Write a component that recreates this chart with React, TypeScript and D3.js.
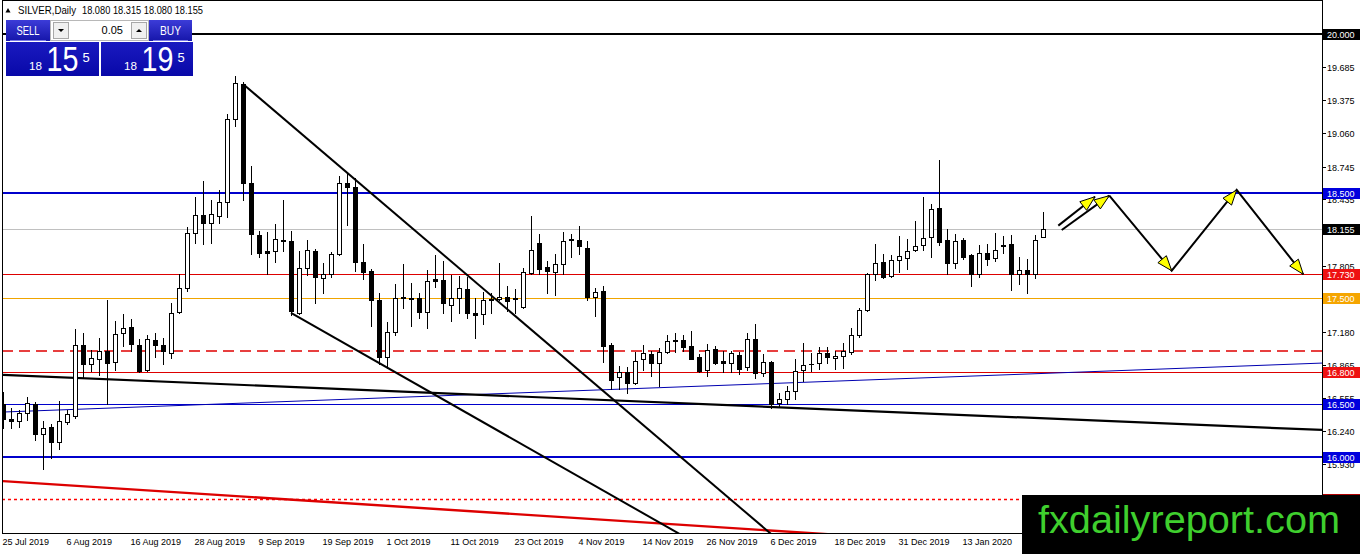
import React from 'react';
import * as d3 from 'd3';

// ---------- data ----------
const dateLabels = ['25 Jul 2019', '6 Aug 2019', '16 Aug 2019', '28 Aug 2019', '9 Sep 2019', '19 Sep 2019', '1 Oct 2019', '11 Oct 2019', '23 Oct 2019', '4 Nov 2019', '14 Nov 2019', '26 Nov 2019', '6 Dec 2019', '18 Dec 2019', '31 Dec 2019', '13 Jan 2020'];
const dateLabelBars = [0, 8, 16, 24, 32, 40, 48, 56, 64, 72, 80, 88, 96, 104, 112, 120];

const opens = [16.50, 16.36, 16.34, 16.41, 16.50, 16.21, 16.28, 16.14, 16.33, 16.38, 17.06, 16.88, 16.92, 17.00, 16.90, 17.17, 17.23, 17.06, 16.82, 17.10, 17.06, 16.98, 17.37, 17.60, 18.12, 18.29, 18.21, 18.28, 18.41, 19.20, 19.53, 18.59, 18.10, 17.95, 17.95, 18.05, 18.04, 17.36, 17.79, 17.95, 17.69, 17.73, 17.92, 18.59, 18.55, 17.84, 17.76, 17.48, 16.94, 17.18, 17.50, 17.50, 17.50, 17.37, 17.68, 17.67, 17.44, 17.50, 17.59, 17.36, 17.35, 17.49, 17.49, 17.51, 17.49, 17.42, 17.74, 18.02, 17.80, 17.75, 17.82, 18.06, 18.05, 17.98, 17.51, 17.57, 17.06, 16.75, 16.80, 16.70, 16.92, 16.97, 16.89, 16.99, 17.10, 17.10, 17.05, 16.94, 16.82, 17.02, 16.91, 16.89, 16.96, 16.85, 17.11, 16.79, 16.90, 16.51, 16.55, 16.62, 16.82, 16.88, 16.89, 16.98, 16.93, 16.95, 16.99, 17.15, 17.39, 17.73, 17.84, 17.71, 17.86, 17.88, 17.96, 18.00, 18.08, 18.35, 18.05, 17.83, 18.05, 17.91, 17.73, 17.93, 17.88, 18.00, 18.01, 17.73, 17.77, 17.73, 18.08];
const highs = [16.61, 16.46, 16.44, 16.56, 16.52, 16.34, 16.31, 16.53, 16.44, 17.21, 17.17, 17.01, 17.12, 17.48, 17.28, 17.35, 17.30, 17.11, 17.15, 17.17, 17.12, 17.45, 17.73, 18.17, 18.46, 18.61, 18.43, 18.52, 19.24, 19.60, 19.55, 18.75, 18.14, 18.13, 18.20, 18.43, 18.14, 17.95, 18.05, 17.97, 17.83, 17.94, 18.66, 18.68, 18.64, 18.01, 17.78, 17.55, 17.27, 17.63, 17.82, 17.64, 17.55, 17.77, 17.91, 17.85, 17.72, 17.71, 17.70, 17.50, 17.56, 17.55, 17.83, 17.62, 17.59, 17.79, 18.28, 18.11, 17.85, 17.92, 18.13, 18.11, 18.18, 18.04, 17.60, 17.62, 17.08, 16.86, 16.85, 16.99, 17.06, 17.00, 17.03, 17.15, 17.17, 17.15, 17.19, 16.97, 17.07, 17.05, 17.00, 17.00, 16.99, 17.17, 17.26, 16.97, 16.91, 16.60, 16.67, 16.92, 17.08, 16.98, 17.04, 17.04, 17.00, 17.08, 17.22, 17.41, 17.74, 18.01, 17.92, 17.91, 18.09, 18.06, 18.23, 18.46, 18.39, 18.81, 18.16, 18.11, 18.07, 17.92, 18.00, 18.01, 18.12, 18.09, 18.10, 17.89, 17.87, 18.10, 18.315];
const lows = [16.27, 16.27, 16.28, 16.35, 16.16, 15.88, 15.99, 16.07, 16.31, 16.37, 16.75, 16.81, 16.77, 16.50, 16.82, 17.05, 17.00, 16.80, 16.81, 16.94, 16.88, 16.93, 17.36, 17.57, 18.02, 18.01, 18.02, 18.21, 18.27, 19.13, 18.43, 17.92, 17.89, 17.73, 17.84, 17.95, 17.34, 17.35, 17.72, 17.45, 17.55, 17.70, 17.91, 18.19, 17.76, 17.68, 17.24, 16.88, 16.84, 17.15, 17.41, 17.24, 17.31, 17.22, 17.61, 17.36, 17.28, 17.36, 17.31, 17.12, 17.26, 17.36, 17.48, 17.38, 17.36, 17.41, 17.73, 17.73, 17.55, 17.53, 17.73, 17.89, 17.92, 17.48, 17.33, 16.90, 16.64, 16.64, 16.60, 16.69, 16.82, 16.76, 16.67, 16.98, 16.99, 17.00, 16.92, 16.80, 16.76, 16.88, 16.80, 16.80, 16.78, 16.82, 16.74, 16.76, 16.46, 16.47, 16.50, 16.55, 16.72, 16.81, 16.83, 16.89, 16.83, 16.84, 16.97, 17.13, 17.38, 17.67, 17.69, 17.70, 17.75, 17.78, 17.95, 17.96, 17.89, 18.00, 17.73, 17.79, 17.87, 17.62, 17.70, 17.81, 17.85, 17.93, 17.58, 17.63, 17.55, 17.69, 18.08];
const closes = [16.36, 16.34, 16.41, 16.51, 16.21, 16.27, 16.14, 16.34, 16.40, 17.06, 16.88, 16.93, 17.00, 16.89, 17.16, 17.22, 17.07, 16.81, 17.11, 17.06, 17.00, 17.36, 17.60, 18.12, 18.29, 18.21, 18.30, 18.41, 19.20, 19.54, 18.59, 18.11, 17.93, 17.93, 18.06, 18.04, 17.38, 17.79, 17.96, 17.70, 17.73, 17.92, 18.59, 18.55, 17.84, 17.75, 17.48, 16.94, 17.18, 17.50, 17.51, 17.49, 17.37, 17.66, 17.66, 17.45, 17.50, 17.60, 17.36, 17.34, 17.48, 17.48, 17.51, 17.47, 17.50, 17.75, 17.96, 17.78, 17.76, 17.82, 18.04, 18.05, 17.99, 17.51, 17.56, 17.05, 16.73, 16.80, 16.70, 16.91, 16.98, 16.89, 16.99, 17.09, 17.09, 17.04, 16.92, 16.81, 17.01, 16.89, 16.89, 16.98, 16.83, 17.11, 16.79, 16.90, 16.50, 16.55, 16.62, 16.81, 16.87, 16.88, 16.98, 16.94, 16.95, 17.00, 17.15, 17.39, 17.73, 17.83, 17.70, 17.86, 17.90, 17.95, 17.99, 18.07, 18.34, 18.03, 17.83, 18.04, 17.89, 17.73, 17.93, 17.87, 17.96, 17.99, 17.73, 17.77, 17.73, 18.05, 18.155];

const priceTicks = [19.685, 19.375, 19.06, 18.745, 18.435, 17.805, 17.18, 16.865, 16.555, 16.24, 15.93];
const levelPrices = [20.0, 18.5, 17.73, 17.5, 16.8, 16.5, 16.0, 15.6];
const dashedLevel = 17.0;
const currentPrice = 18.155;

// trend lines as [barIndex, price] pairs
const longBlackLine = [[0, 16.773], [165, 16.252]];
const blueRisingLine = [[0, 16.422], [165, 16.886]];
const redFallingLine = [[0, 15.768], [130, 15.134]];
const wedgeUpperLine = [[30, 19.528], [96, 15.268]];
const wedgeLowerLine = [[36, 17.36], [85, 15.249]];

// projection arrows
const arrowA = [[131.91, 18.187], [136.5, 18.461]];
const arrowB = [[132.34, 18.146], [138.29, 18.471]];
const zigzag = [[138.29, 18.471], [146.09, 17.76], [154.21, 18.525], [162.54, 17.726]];

const symbolTitle = 'SILVER,Daily';
const ohlcTitle = '18.080 18.315 18.080 18.155';
const sellQuote = ['18', '15', '5'];
const buyQuote = ['18', '19', '5'];

// ---------- styles ----------
const W = 1362, H = 554;
const PL = 2, PR = 1322, PT = 1, PB = 533;
const FONT = '"Liberation Sans", Arial, sans-serif';
const levelStyle = [
  { color: '#000000', width: 2, bg: '#000000' },
  { color: '#0000cc', width: 2, bg: '#0000dd' },
  { color: '#dd0000', width: 1, bg: '#ee1111' },
  { color: '#f0a500', width: 1, bg: '#f5a500' },
  { color: '#dd0000', width: 1, bg: '#ee1111' },
  { color: '#0000cc', width: 1, bg: '#0000dd' },
  { color: '#0000cc', width: 2, bg: '#0000dd' },
  { color: '#ff0000', width: 1.4, bg: '#b00000', dotted: true },
];

export default function App() {
  const xs = d3.scaleLinear().domain([0, 130]).range([3, 1043]);
  const ys = d3.scaleLinear().domain([16, 20]).range([456.6, 34.2]);
  const crisp = (v: number) => Math.round(v) + 0.5;
  const lineGen = d3.line<number[]>().x((d) => xs(d[0])).y((d) => ys(d[1]));

  const arrowHead = (p0: number[], p1: number[], key: string) => {
    const x0 = xs(p0[0]), y0 = ys(p0[1]), x1 = xs(p1[0]), y1 = ys(p1[1]);
    const dx = x1 - x0, dy = y1 - y0;
    const len = Math.hypot(dx, dy);
    const ux = dx / len, uy = dy / len;
    const L = 15, hw = 5.5;
    const bx = x1 - ux * L, by = y1 - uy * L;
    const pts = [[x1, y1], [bx - uy * hw, by + ux * hw], [bx + uy * hw, by - ux * hw]];
    return <polygon key={key} points={pts.map((p) => p.join(',')).join(' ')} fill="#ffff00" stroke="#000" strokeWidth={1} strokeLinejoin="miter" />;
  };

  const levelLabel = (v: number) => v.toFixed(3);

  const quoteBox = (x: number, w: number, q: string[], key: string) => (
    <g key={key}>
      <rect x={x} y={42} width={w} height={34} fill="url(#box)" />
      <text x={x + 23} y={70} fontSize={11.5} fill="#fff" textLength={13} lengthAdjust="spacingAndGlyphs">{q[0]}</text>
      <text transform={`translate(${x + 40.5},70.5) scale(0.82,1)`} fontSize={35} fill="#fff">{q[1]}</text>
      <text x={x + 76.5} y={61.5} fontSize={13} fill="#fff">{q[2]}</text>
    </g>
  );

  return (
    <svg width={W} height={H} style={{ position: 'absolute', left: 0, top: 0, background: '#fff' }} fontFamily={FONT}>
      <defs>
        <clipPath id="plot"><rect x={PL} y={PT} width={PR - PL} height={PB - PT} /></clipPath>
        <linearGradient id="hdr" x1="0" y1="0" x2="0" y2="1">
          <stop offset="0" stopColor="#3c3cd8" />
          <stop offset="1" stopColor="#1616aa" />
        </linearGradient>
        <linearGradient id="box" x1="0" y1="0" x2="0" y2="1">
          <stop offset="0" stopColor="#1a1ac0" />
          <stop offset="1" stopColor="#0808a8" />
        </linearGradient>
      </defs>
      <rect x={0} y={0} width={W} height={H} fill="#fff" />

      <g clipPath="url(#plot)">
        {/* horizontal levels */}
        {levelPrices.map((v, i) => (
          <line key={'lv' + i} x1={PL} x2={PR} y1={crisp(ys(v)) - (levelStyle[i].width === 2 ? 0.5 : 0)} y2={crisp(ys(v)) - (levelStyle[i].width === 2 ? 0.5 : 0)}
            stroke={levelStyle[i].color} strokeWidth={levelStyle[i].width}
            strokeDasharray={levelStyle[i].dotted ? '3,3' : undefined} />
        ))}
        <line x1={PL} x2={PR} y1={ys(dashedLevel)} y2={ys(dashedLevel)} stroke="#e00000" strokeWidth={1.3} strokeDasharray="11,6" />
        <line x1={PL} x2={PR} y1={crisp(ys(currentPrice))} y2={crisp(ys(currentPrice))} stroke="#c0c0c0" strokeWidth={1} shapeRendering="crispEdges" />

        {/* trend lines */}
        <path d={lineGen(blueRisingLine as any) || ''} stroke="#0000b0" strokeWidth={1} fill="none" />
        <path d={lineGen(longBlackLine as any) || ''} stroke="#000" strokeWidth={2.2} fill="none" />
        <path d={lineGen(redFallingLine as any) || ''} stroke="#dd0000" strokeWidth={2.4} fill="none" />
        <path d={lineGen(wedgeUpperLine as any) || ''} stroke="#000" strokeWidth={2} fill="none" />
        <path d={lineGen(wedgeLowerLine as any) || ''} stroke="#000" strokeWidth={2} fill="none" />

        {/* candles */}
        {opens.map((o, i) => {
          const c = closes[i];
          const x = Math.round(xs(i));
          const yo = ys(o), yc = ys(c);
          const top = Math.round(Math.min(yo, yc));
          const bot = Math.round(Math.max(yo, yc));
          const bull = c >= o;
          return (
            <g key={'c' + i} shapeRendering="crispEdges">
              <line x1={x + 0.5} x2={x + 0.5} y1={Math.round(ys(highs[i]))} y2={Math.round(ys(lows[i])) + 1} stroke="#000" strokeWidth={1} />
              {bot - top < 1 ? (
                <line x1={x - 2} x2={x + 3} y1={top + 0.5} y2={top + 0.5} stroke="#000" strokeWidth={1} />
              ) : (
                <rect x={x - 1.5} y={top + 0.5} width={4} height={bot - top} fill={bull ? '#fff' : '#000'} stroke="#000" strokeWidth={1} />
              )}
            </g>
          );
        })}

        {/* projection arrows */}
        <path d={lineGen(arrowA as any) || ''} stroke="#000" strokeWidth={2} fill="none" />
        <path d={lineGen(arrowB as any) || ''} stroke="#000" strokeWidth={2} fill="none" />
        <path d={lineGen(zigzag as any) || ''} stroke="#000" strokeWidth={2} fill="none" strokeLinejoin="miter" />
        {arrowHead(arrowA[0], arrowA[1], 'ha')}
        {arrowHead(arrowB[0], arrowB[1], 'hb')}
        {zigzag.slice(1).map((p, i) => arrowHead(zigzag[i], p, 'hz' + i))}
      </g>

      {/* frame */}
      <g shapeRendering="crispEdges" stroke="#000" strokeWidth={1}>
        <line x1={PL + 0.5} x2={PL + 0.5} y1={0} y2={PB + 1} />
        <line x1={PL} x2={PR} y1={0.5} y2={0.5} />
        <line x1={PR + 0.5} x2={PR + 0.5} y1={0} y2={PB + 1} />
        <line x1={PL} x2={PR + 1} y1={PB + 0.5} y2={PB + 0.5} />
      </g>

      {/* price axis ticks */}
      {priceTicks.map((v) => (
        <g key={'t' + v}>
          <line x1={PR} x2={PR + 4} y1={crisp(ys(v))} y2={crisp(ys(v))} stroke="#000" shapeRendering="crispEdges" />
          <text x={PR + 5} y={ys(v) + 4} fontSize={9} fill="#000">{v.toFixed(3)}</text>
        </g>
      ))}
      {/* level labels (drawn over the ticks they hide, as in the terminal) */}
      {levelPrices.map((v, i) => (
        <g key={'ll' + i}>
          <rect x={PR + 1} y={Math.round(ys(v)) - 5} width={37} height={11} fill={levelStyle[i].bg} shapeRendering="crispEdges" />
          <text x={PR + 5} y={ys(v) + 4} fontSize={9} fill="#fff">{levelLabel(v)}</text>
        </g>
      ))}
      <rect x={PR + 1} y={Math.round(ys(currentPrice)) - 5} width={37} height={11} fill="#000" shapeRendering="crispEdges" />
      <text x={PR + 5} y={ys(currentPrice) + 4} fontSize={9} fill="#fff">{currentPrice.toFixed(3)}</text>

      {/* date labels */}
      {dateLabels.map((d, i) => (
        <text key={'d' + i} x={xs(dateLabelBars[i]) - 0.5} y={545} fontSize={9} fill="#000">{d}</text>
      ))}

      {/* title */}
      <polygon points="5.5,12.5 10.5,12.5 8,8" fill="#000" />
      <text x={18} y={14} fontSize={10.5} fill="#000" textLength={58} lengthAdjust="spacingAndGlyphs">{symbolTitle}</text>
      <text x={82} y={14} fontSize={10.5} fill="#000" textLength={121} lengthAdjust="spacingAndGlyphs">{ohlcTitle}</text>

      {/* one-click trading panel */}
      <g>
        <rect x={6} y={20} width={44} height={21} fill="url(#hdr)" />
        <line x1={10} x2={46} y1={40.5} y2={40.5} stroke="#7a7ae8" strokeWidth={1} />
        <text x={28} y={35} fontSize={12.5} fill="#fff" textAnchor="middle" textLength={23} lengthAdjust="spacingAndGlyphs">SELL</text>
        <rect x={50.5} y={20.5} width={98} height={20} fill="#fff" stroke="#b8b8b8" />
        <rect x={53.5} y={22.5} width={15} height={16} fill="#f0f0f0" stroke="#a8a8a8" />
        <polygon points="58,29 64,29 61,32" fill="#000" />
        <text x={123} y={34} fontSize={11} fill="#000" textAnchor="end">0.05</text>
        <rect x={131.5} y={22.5} width={15} height={16} fill="#f0f0f0" stroke="#a8a8a8" />
        <polygon points="136,32 142,32 139,29" fill="#000" />
        <rect x={149} y={20} width={43} height={21} fill="url(#hdr)" />
        <line x1={153} x2={188} y1={40.5} y2={40.5} stroke="#7a7ae8" strokeWidth={1} />
        <text x={170.5} y={35} fontSize={12.5} fill="#fff" textAnchor="middle" textLength={21} lengthAdjust="spacingAndGlyphs">BUY</text>

        {quoteBox(6, 93, sellQuote, 'qs')}
        {quoteBox(101, 92, buyQuote, 'qb')}
      </g>

      {/* watermark */}
      <rect x={1022} y={495} width={338} height={59} fill="#000" />
      <text x={1038} y={533} fontSize={38} fill="#3fcf2e" textLength={302} lengthAdjust="spacingAndGlyphs">fxdailyreport.com</text>
    </svg>
  );
}
